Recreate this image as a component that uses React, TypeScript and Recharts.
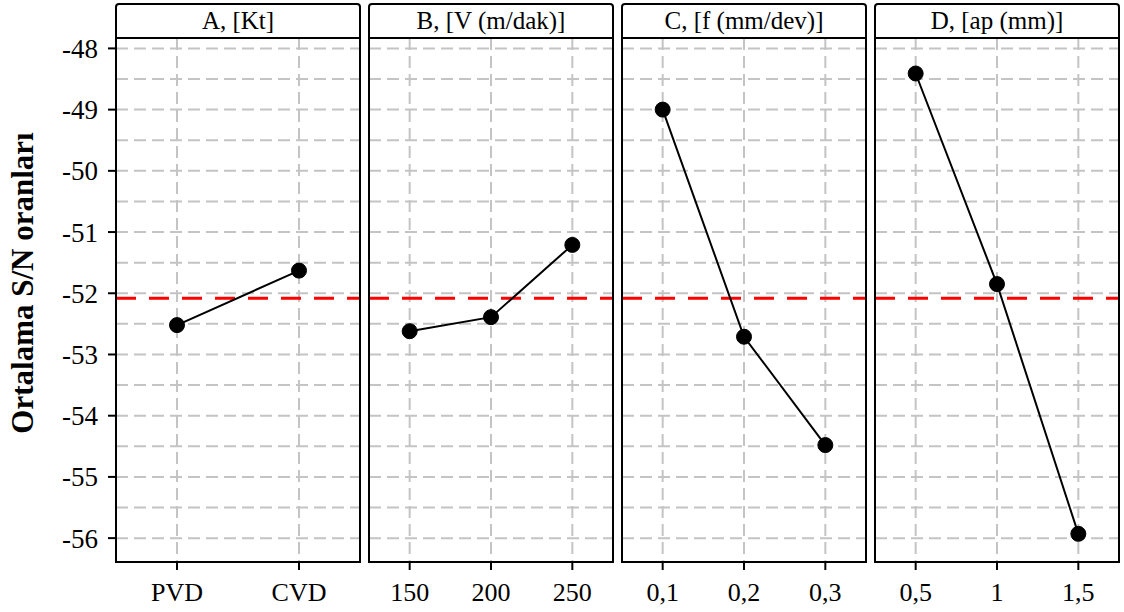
import React from "react";
import { LineChart, Line, XAxis, YAxis, CartesianGrid, ReferenceLine } from "recharts";

// main effects plot for S/N ratios
const panelTitles = ["A, [Kt]", "B, [V (m/dak)]", "C, [f (mm/dev)]", "D, [ap (mm)]"];
const levelsA = ["PVD", "CVD"];
const levelsB = ["150", "200", "250"];
const levelsC = ["0,1", "0,2", "0,3"];
const levelsD = ["0,5", "1", "1,5"];
const snA = [-52.52, -51.63];
const snB = [-52.62, -52.39, -51.21];
const snC = [-49.0, -52.71, -54.48];
const snD = [-48.41, -51.85, -55.93];
const overallMean = -52.08;
const yTicks = [
  -56, -55.5, -55, -54.5, -54, -53.5, -53, -52.5, -52, -51.5, -51, -50.5, -50, -49.5, -49, -48.5, -48,
];
const yLabel = "Ortalama S/N oranları";

const W = 1124;
const H = 612;
const PLOT_TOP = 38;
const PLOT_BOTTOM = 562;
const X_AXIS_H = 40;
const Y_AXIS_W = 80;
const SERIF = "'Liberation Serif', 'Times New Roman', serif";

const panelBounds = [
  [116, 360],
  [369, 613],
  [622, 866],
  [875, 1119],
];

function YTick(props: any) {
  const { x, y, payload } = props;
  if (!Number.isInteger(payload.value)) return <g />;
  return (
    <g>
      <line x1={x + 10} x2={x + 18} y1={y} y2={y} stroke="#000" strokeWidth={2} />
      <text x={x} y={y} dy="0.35em" textAnchor="end" fill="#000" fontSize={27} fontFamily={SERIF}>
        {payload.value}
      </text>
    </g>
  );
}

function Panel({ idx, levels, values }: { idx: number; levels: string[]; values: number[] }) {
  const [left, right] = panelBounds[idx];
  const first = idx === 0;
  const data = levels.map((lv, i) => ({ x: i + 1, level: lv, sn: values[i] }));
  const xTicks = levels.map((_, i) => i + 1);

  return (
    <>
      <div style={{ position: "absolute", left: 0, top: 0 }}>
        <LineChart
          width={W}
          height={H}
          data={data}
          margin={{
            top: PLOT_TOP,
            right: W - right,
            bottom: H - PLOT_BOTTOM - X_AXIS_H,
            left: first ? left - Y_AXIS_W : left,
          }}
        >
          <CartesianGrid stroke="#c4c4c4" strokeWidth={2} strokeDasharray="12 6" />
          <XAxis
            dataKey="x"
            type="number"
            domain={[0.5, levels.length + 0.5]}
            ticks={xTicks}
            tickFormatter={(v: number) => levels[v - 1]}
            height={X_AXIS_H}
            axisLine={false}
            tickSize={8}
            tickMargin={13}
            tickLine={{ stroke: "#000", strokeWidth: 2 }}
            tick={{ fill: "#000", fontSize: 26, fontFamily: SERIF }}
            interval={0}
          />
          <YAxis
            type="number"
            domain={[-56.39, -47.83]}
            ticks={yTicks}
            allowDataOverflow
            hide={!first}
            width={Y_AXIS_W}
            axisLine={false}
            tickLine={false}
            tickSize={8}
            tickMargin={10}
            tick={<YTick />}
            interval={0}
            label={
              first
                ? () => (
                    <text
                      transform="translate(33,283) rotate(-90)"
                      textAnchor="middle"
                      fill="#000"
                      fontSize={31}
                      fontWeight="bold"
                      fontFamily={SERIF}
                    >
                      {yLabel}
                    </text>
                  )
                : undefined
            }
          />
          <ReferenceLine y={overallMean} stroke="#ff0000" strokeWidth={3} strokeDasharray="20 13" />
          <Line
            dataKey="sn"
            stroke="#000"
            strokeWidth={2}
            dot={{ r: 7.5, fill: "#000", stroke: "#000", strokeWidth: 1 }}
            isAnimationActive={false}
          />
        </LineChart>
      </div>
      <div
        style={{
          position: "absolute",
          left: left - 1,
          top: PLOT_TOP - 1,
          width: right - left + 2,
          height: PLOT_BOTTOM - PLOT_TOP + 2,
          border: "2px solid #000",
          boxSizing: "border-box",
          pointerEvents: "none",
        }}
      />
      <div
        style={{
          position: "absolute",
          left: left - 1,
          top: 3,
          width: right - left + 2,
          height: PLOT_TOP - 2,
          border: "2px solid #000",
          borderRadius: "4px 4px 0 0",
          boxSizing: "border-box",
          display: "flex",
          alignItems: "center",
          justifyContent: "center",
          fontFamily: SERIF,
          fontSize: 25,
          color: "#000",
          background: "#fff",
        }}
      >
        {panelTitles[idx]}
      </div>
    </>
  );
}

export default function App() {
  return (
    <div style={{ position: "absolute", left: 0, top: 0, width: W, height: H, background: "#fff" }}>
      <Panel idx={0} levels={levelsA} values={snA} />
      <Panel idx={1} levels={levelsB} values={snB} />
      <Panel idx={2} levels={levelsC} values={snC} />
      <Panel idx={3} levels={levelsD} values={snD} />
    </div>
  );
}
